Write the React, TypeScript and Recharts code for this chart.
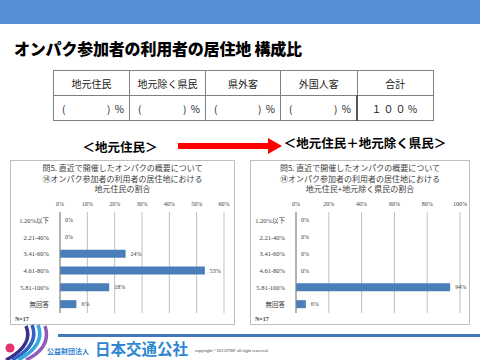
import React from "react";
import { BarChart, Bar, XAxis, YAxis, CartesianGrid, LabelList } from "recharts";

const categories = ["1.20%以下", "2.21-40%", "3.41-60%", "4.61-80%", "5.81-100%", "無回答"];
const localShare = [0, 0, 24, 53, 18, 6];
const localPlusPrefShare = [0, 0, 0, 0, 94, 6];
const leftTicks = [0, 10, 20, 30, 40, 50, 60];
const rightTicks = [0, 20, 40, 60, 80, 100];
const tableHeaders = ["地元住民", "地元除く県民", "県外客", "外国人客", "合計"];
const leftTitle = [
  "問5. 直近で開催したオンパクの概要について",
  "⑭オンパク参加者の利用者の居住地における",
  "地元住民の割合",
];
const rightTitle = [
  "問5. 直近で開催したオンパクの概要について",
  "⑭オンパク参加者の利用者の居住地における",
  "地元住民+地元除く県民の割合",
];

const jp = "'Noto Sans CJK JP', 'Noto Sans', sans-serif";
const serif = "'Liberation Serif', 'Noto Sans CJK JP', serif";
const barBlue = "#4A7EBB";

// label drawn by hand so that 0% rows still get their text
const ValueLabel = (props: any) => {
  const { x, y, width, height, value } = props;
  if (value === undefined || value === null) return null;
  return (
    <text
      x={Number(x) + Number(width || 0) + 5}
      y={Number(y) + Number(height) / 2}
      dominantBaseline="central"
      fontSize={6}
      fill="#404040"
      fontFamily={serif}
    >
      {`${value}%`}
    </text>
  );
};

interface ShareChartProps {
  values: number[];
  ticks: number[];
  max: number;
  width: number;
  yWidth: number;
  right: number;
}

function ShareChart({ values, ticks, max, width, yWidth, right }: ShareChartProps) {
  const data = categories.map((name, i) => ({ name, value: values[i] }));
  return (
    <BarChart
      layout="vertical"
      width={width}
      height={165}
      data={data}
      margin={{ top: 42, right, bottom: 12, left: 0 }}
      barSize={8}
    >
      <CartesianGrid horizontal={false} stroke="#BFBFBF" />
      <XAxis
        type="number"
        orientation="top"
        domain={[0, max]}
        ticks={ticks}
        interval={0}
        tickFormatter={(v) => `${v}%`}
        axisLine={false}
        tickLine={false}
        height={10}
        tickSize={4}
        tickMargin={2}
        tick={{ fontSize: 6, fill: "#404040", fontFamily: serif }}
      />
      <YAxis
        type="category"
        dataKey="name"
        width={yWidth}
        interval={0}
        axisLine={{ stroke: "#868686" }}
        tickLine={false}
        tickMargin={5}
        tick={{ fontSize: 6.5, fill: "#404040", fontFamily: serif }}
      />
      <Bar dataKey="value" fill={barBlue} minPointSize={0.01} isAnimationActive={false}>
        <LabelList dataKey="value" content={ValueLabel} />
      </Bar>
    </BarChart>
  );
}

function ChartBox({ left, width, lines, children }: { left: number; width: number; lines: string[]; children: React.ReactNode }) {
  return (
    <>
      <div
        style={{
          position: "absolute",
          left,
          top: 160,
          width: width - 2,
          height: 163,
          border: "1px solid #BFBFBF",
          background: "#fff",
        }}
      />
      <div
        style={{
          position: "absolute",
          left,
          top: 163,
          width,
          textAlign: "center",
          fontFamily: jp,
          fontSize: 8,
          lineHeight: "10.5px",
          color: "#404040",
        }}
      >
        {lines.map((l, i) => (
          <div key={i}>{l}</div>
        ))}
      </div>
      <div style={{ position: "absolute", left, top: 160 }}>{children}</div>
      <div
        style={{
          position: "absolute",
          left: left + 5,
          top: 316,
          fontFamily: serif,
          fontSize: 6,
          fontWeight: "bold",
          color: "#404040",
        }}
      >
        N=17
      </div>
    </>
  );
}

export default function App() {
  const colWidths = [75, 75, 74, 75, 75];
  return (
    <div
      style={{
        position: "fixed",
        left: 0,
        top: 0,
        width: 480,
        height: 360,
        background: "#fff",
        overflow: "hidden",
        fontFamily: jp,
      }}
    >
      <div style={{ position: "absolute", left: 0, top: 0, width: 480, height: 24, background: "#558ED5" }} />
      <div
        style={{
          position: "absolute",
          left: 14,
          top: 38,
          fontSize: 16,
          lineHeight: "20px",
          fontWeight: 900,
          color: "#000",
          whiteSpace: "nowrap",
          letterSpacing: -0.2,
        }}
      >
        オンパク参加者の利用者の居住地 構成比
      </div>

      <table
        style={{
          position: "absolute",
          left: 53,
          top: 70,
          borderCollapse: "collapse",
          fontSize: 10,
          color: "#222",
          tableLayout: "fixed",
        }}
      >
        <tbody>
          <tr>
            {tableHeaders.map((h, i) => (
              <td
                key={h}
                style={{
                  width: colWidths[i],
                  height: 24,
                  border: "1px solid #7F7F7F",
                  textAlign: "center",
                  padding: 0,
                }}
              >
                {h}
              </td>
            ))}
          </tr>
          <tr>
            {tableHeaders.map((h, i) => (
              <td
                key={h}
                style={{
                  width: colWidths[i],
                  height: 24,
                  border: "1px solid #7F7F7F",
                  padding: 0,
                  borderRight: i === 3 ? "2px solid #555" : "1px solid #7F7F7F",
                }}
              >
                {i < 4 ? (
                  <div style={{ display: "flex", justifyContent: "space-between", padding: "0 5px 0 8px" }}>
                    <span>(</span>
                    <span>)&nbsp;&nbsp;%</span>
                  </div>
                ) : (
                  <div style={{ textAlign: "center", letterSpacing: 2 }}>１００％</div>
                )}
              </td>
            ))}
          </tr>
        </tbody>
      </table>

      <div
        style={{
          position: "absolute",
          left: 60,
          top: 138,
          width: 120,
          textAlign: "center",
          fontSize: 12.5,
          lineHeight: "18px",
          fontWeight: "bold",
          color: "#000",
        }}
      >
        ＜地元住民＞
      </div>
      <div
        style={{
          position: "absolute",
          left: 265,
          top: 134,
          width: 200,
          textAlign: "center",
          fontSize: 12.5,
          lineHeight: "18px",
          fontWeight: "bold",
          color: "#000",
          whiteSpace: "nowrap",
        }}
      >
        ＜地元住民＋地元除く県民＞
      </div>
      <svg style={{ position: "absolute", left: 0, top: 0 }} width={480} height={360}>
        <rect x={178} y={143} width={92} height={6} fill="#FF0000" />
        <polygon points="268,138 282,146 268,154" fill="#FF0000" />
      </svg>

      <ChartBox left={10} width={225} lines={leftTitle}>
        <ShareChart values={localShare} ticks={leftTicks} max={60} width={225} yWidth={50} right={11} />
      </ChartBox>
      <ChartBox left={250} width={220} lines={rightTitle}>
        <ShareChart values={localPlusPrefShare} ticks={rightTicks} max={100} width={220} yWidth={46} right={10} />
      </ChartBox>

      <div style={{ position: "absolute", left: 58, top: 334, width: 422, height: 3, background: "#4377BC" }} />
      <svg style={{ position: "absolute", left: 0, top: 315 }} width={60} height={45}>
        <path d="M26 11 Q34 30 6 45" stroke="#3A2D8C" strokeWidth={3.5} fill="none" />
        <path d="M32 10 Q40 30 12 45" stroke="#2F62C4" strokeWidth={3.5} fill="none" />
        <path d="M38 10 Q46 30 18 45" stroke="#35A8DF" strokeWidth={3.5} fill="none" />
        <path d="M45 11 Q52 32 26 45" stroke="#8E5DB8" strokeWidth={3.5} fill="none" />
        <circle cx={10} cy={33} r={4.5} fill="#E5356E" />
      </svg>
      <div
        style={{
          position: "absolute",
          left: 47,
          top: 346,
          fontSize: 7,
          lineHeight: "10px",
          color: "#2C7FCF",
          fontWeight: "bold",
          whiteSpace: "nowrap",
        }}
      >
        公益財団法人
      </div>
      <div
        style={{
          position: "absolute",
          left: 95,
          top: 340,
          fontSize: 15.5,
          lineHeight: "17px",
          color: "#2E86D1",
          fontWeight: "bold",
          whiteSpace: "nowrap",
        }}
      >
        日本交通公社
      </div>
      <div
        style={{
          position: "absolute",
          left: 195,
          top: 348,
          fontSize: 4.5,
          lineHeight: "6px",
          fontFamily: serif,
          color: "#404040",
          whiteSpace: "nowrap",
        }}
      >
        copyright ©2013JTBF all right reserved.
      </div>
    </div>
  );
}
